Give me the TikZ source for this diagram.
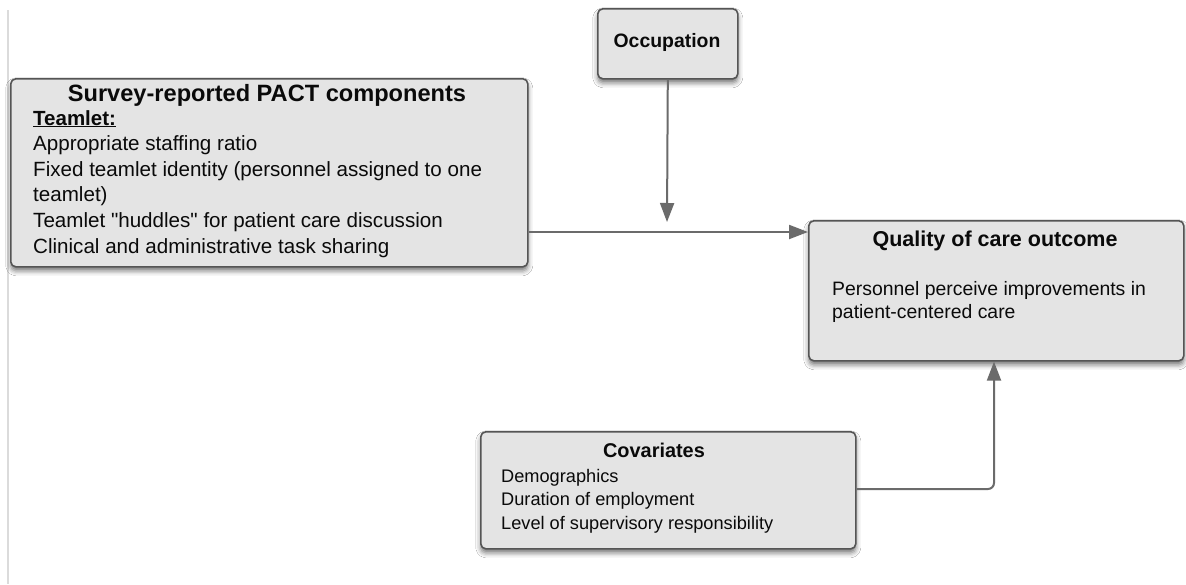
\documentclass[tikz,border=0pt]{standalone}
\usepackage{fontspec}
\setmainfont{Liberation Sans}[Ligatures=TeXOff]
\usetikzlibrary{arrows.meta,shadows.blur}
\definecolor{boxfill}{HTML}{E4E4E4}
\definecolor{boxline}{HTML}{555555}
\definecolor{arrowc}{HTML}{6B6B6B}
\definecolor{txt}{HTML}{0A0A0A}
\tikzset{
  box/.style={draw=boxline, line width=1.6pt, fill=boxfill, rounded corners=5pt,
    blur shadow={shadow xshift=0pt, shadow yshift=-4pt, shadow blur radius=5pt, shadow opacity=55},
    inner sep=0pt, anchor=north west},
  line/.style={anchor=base west, inner sep=0pt, text=txt},
  ttl/.style={anchor=base, inner sep=0pt, text=txt, font=\bfseries},
  conn/.style={draw=arrowc, line width=2pt, -{Triangle[length=19pt,width=14pt]}, rounded corners=6pt},
}
\newcommand{\fs}[1]{\fontsize{#1}{#1}\selectfont}
\begin{document}
\begin{tikzpicture}[x=1pt,y=-1pt]
\useasboundingbox[fill=white] (0,0) rectangle (1186,584);
\draw[line width=1.6pt, color=black!14] (8,10) -- (8,584);

% boxes
\node[box, minimum width=517pt, minimum height=188pt] (survey) at (10,78) {};
\node[box, minimum width=140pt, minimum height=70pt] (occ) at (597,8) {};
\node[box, minimum width=375pt, minimum height=140pt] (qual) at (808,220) {};
\node[box, minimum width=375pt, minimum height=117pt] (cov) at (480,431) {};

% survey text
\node[ttl, font=\bfseries\fs{23.6}] (st) at (267,101) {Survey-reported PACT components};
\node[line, font=\bfseries\fs{20.5}] (s0) at (33,125) {\underline{Teamlet:}};
\node[line, font=\fs{20.6}] (s1) at (33,150.5) {Appropriate staffing ratio};
\node[line, font=\fs{20.6}] (s2) at (33,176) {Fixed teamlet identity (personnel assigned to one};
\node[line, font=\fs{20.6}] (s3) at (33,201.5) {teamlet)};
\node[line, font=\fs{20.6}] (s4) at (33,227.5) {Teamlet "huddles" for patient care discussion};
\node[line, font=\fs{20.6}] (s5) at (33,253) {Clinical and administrative task sharing};

% occupation
\node[ttl, font=\bfseries\fs{19.4}] (ot) at (667,47) {Occupation};

% quality
\node[ttl, font=\bfseries\fs{21.5}] (qt) at (995,246) {Quality of care outcome};
\node[line, font=\fs{19.4}] (q1) at (832,295) {Personnel perceive improvements in};
\node[line, font=\fs{19.4}] (q2) at (832,318.5) {patient-centered care};

% covariates
\node[ttl, font=\bfseries\fs{19.9}] (ct) at (654,457) {Covariates};
\node[line, font=\fs{18.2}] (c1) at (501,482) {Demographics};
\node[line, font=\fs{18.2}] (c2) at (501,505.5) {Duration of employment};
\node[line, font=\fs{18.2}] (c3) at (501,529) {Level of supervisory responsibility};

% connectors
\coordinate (occtip) at (667,222);
\draw[conn] (survey.east |- 0,232) -- (qual.west |- 0,232);
\draw[conn] (occ.south) -- (occtip);
\draw[conn] (cov.east |- 0,489) -- (994,489) -- (qual.south -| 994,0);
\end{tikzpicture}
\end{document}
